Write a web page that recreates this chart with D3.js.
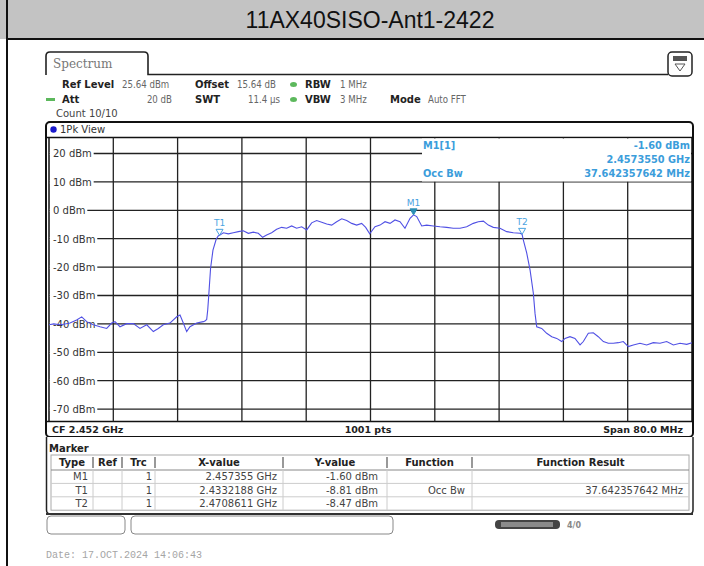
<!DOCTYPE html>
<html><head><meta charset="utf-8">
<script src="https://cdn.jsdelivr.net/npm/d3@7"></script>
<style>
body{margin:0;background:#fff}
svg{display:block}
text{font-family:"DejaVu Sans",Verdana,sans-serif}
</style>
</head><body>
<svg id="c" width="704" height="566"></svg>
<script>
// ---------- data ----------
const chartTitle = "11AX40SISO-Ant1-2422";
const startMHz = 2412, spanMHz = 80;
const refLevel = 25.64, rangeDb = 100;
const levelTicks = [20, 10, 0, -10, -20, -30, -40, -50, -60, -70];
const freqGridMHz = [8, 16, 24, 32, 40, 48, 56, 64, 72];

// trace: frequency offset from start (MHz) and level (dBm)
const traceOffsetMHz = [
  0.0, 0.6, 1.37, 2.0, 2.61, 3.44, 4.07, 4.69, 5.51, 6.35, 7.18, 7.80, 8.21, 8.83, 9.67, 10.49,
  11.32, 12.16, 12.98, 13.60, 14.22, 15.05, 15.89, 16.30, 16.71, 17.13, 17.54, 18.38, 19.20, 19.40,
  19.62, 19.75, 19.85, 20.10, 20.40, 20.80, 21.05, 21.22,
  21.69, 22.31, 22.93, 23.56, 24.18, 24.80, 25.42, 26.04, 26.58, 27.08, 27.70, 28.32, 28.95, 29.57,
  30.19, 30.81, 31.44, 32.06, 32.68, 33.30, 33.93, 34.55, 35.17, 35.79, 36.42, 37.04, 37.66, 38.28,
  38.90, 39.40, 39.90, 40.56, 41.18, 41.81, 42.43, 43.05, 43.67, 44.29, 44.92, 45.355, 45.75, 46.37,
  46.99, 47.82, 48.65, 49.48, 50.30, 51.14, 51.97, 52.79, 53.41, 54.04, 54.66, 55.28, 56.11, 56.95,
  57.77, 58.60, 58.86, 59.01, 59.44, 59.85, 60.26, 60.47, 60.68, 61.30, 61.92, 62.55, 63.17, 63.79,
  64.20, 64.82, 65.44, 66.07, 66.48, 67.10, 67.72, 68.34, 68.97, 69.59, 70.21, 70.83, 71.45, 72.08,
  72.70, 73.53, 74.36, 75.19, 76.02, 76.85, 77.68, 78.51, 79.34, 80.0
];
const traceDbm = [
  -40.3, -40.0, -40.3, -40.0, -39.7, -38.6, -37.5, -39.2, -40.3, -41.0, -41.6, -39.7, -39.2, -41.0, -39.9, -39.9,
  -41.6, -40.3, -42.7, -41.6, -40.3, -39.7, -37.5, -36.9, -39.7, -42.7, -41.0, -39.7, -39.2, -39.0,
  -38.4, -35.0, -31.0, -20.5, -14.0, -10.2, -9.0, -8.81,
  -7.9, -8.3, -7.9, -7.5, -7.2, -8.1, -7.7, -8.1, -9.5, -8.7, -7.9, -6.7, -6.0, -6.3,
  -5.5, -6.3, -5.8, -6.9, -4.4, -3.6, -4.2, -4.8, -5.2, -4.0, -3.0, -3.6, -4.6, -5.2,
  -4.6, -6.0, -8.3, -5.8, -5.2, -4.0, -4.6, -3.4, -4.0, -6.3, -2.8, -1.60, -2.2, -5.5,
  -5.2, -5.5, -5.8, -6.0, -6.3, -6.3, -5.8, -4.6, -4.0, -3.8, -5.2, -6.0, -6.3, -7.5,
  -7.9, -8.1, -8.47, -10.4, -15.1, -21.0, -29.2, -36.3, -41.0, -41.6, -43.3, -44.5, -45.1, -46.2,
  -45.1, -44.5, -45.1, -47.4, -46.2, -43.3, -43.1, -44.5, -46.2, -46.8, -46.8, -46.6, -46.2, -48.0,
  -47.4, -46.8, -47.4, -46.6, -46.8, -46.2, -47.4, -46.8, -47.2, -46.6
];

// markers
const markerType = ["M1", "T1", "T2"];
const markerTrc = ["1", "1", "1"];
const markerFreqGHz = [2.457355, 2.4332188, 2.4708611];
const markerXLabel = ["2.457355 GHz", "2.4332188 GHz", "2.4708611 GHz"];
const markerDbm = [-1.60, -8.81, -8.47];
const markerYLabel = ["-1.60 dBm", "-8.81 dBm", "-8.47 dBm"];
const markerFunction = ["", "Occ Bw", ""];
const markerResult = ["", "37.642357642 MHz", ""];
const tableHeaders = ["Type", "Ref", "Trc", "X-value", "Y-value", "Function", "Function Result"];

const infoM1 = ["M1[1]", "-1.60 dBm", "2.4573550 GHz"];
const infoOcc = ["Occ Bw", "37.642357642 MHz"];
const footerTexts = ["CF 2.452 GHz", "1001 pts", "Span 80.0 MHz"];
const dateText = "Date: 17.OCT.2024  14:06:43";

// ---------- drawing ----------
const svg = d3.select("#c");
const L = 49, R = 692, T = 137.5, B = 421.5;
const x = d3.scaleLinear().domain([0, spanMHz]).range([L, R]);
const y = d3.scaleLinear().domain([refLevel - rangeDb, refLevel]).range([B, T]);

// title band
svg.append("rect").attr("x", 0).attr("y", 0).attr("width", 704).attr("height", 39).attr("fill", "#c3c3c3");
svg.append("line").attr("x1", 7).attr("x2", 704).attr("y1", 39).attr("y2", 39).attr("stroke", "#111").attr("stroke-width", 2);
svg.append("line").attr("x1", 7).attr("x2", 7).attr("y1", 0).attr("y2", 566).attr("stroke", "#111").attr("stroke-width", 2);
svg.append("text").attr("x", 370).attr("y", 28).attr("text-anchor", "middle")
  .style("font-family", "'Liberation Sans',Arial,sans-serif").style("font-size", "23px").attr("fill", "#111").text(chartTitle);

// Spectrum tab
svg.append("path").attr("d", "M46,75 L46,56 Q46,52 50,52 L144,52 Q148,52 148,56 L148,74.5 L668,74.5")
  .attr("fill", "none").attr("stroke", "#222").attr("stroke-width", 1.6);
svg.append("text").attr("x", 53).attr("y", 68).style("font-family", "'DejaVu Serif',serif").style("font-size", "12px")
  .attr("fill", "#777").text("Spectrum");
// icon
svg.append("rect").attr("x", 668).attr("y", 52).attr("width", 24).attr("height", 24).attr("rx", 4)
  .attr("fill", "#fff").attr("stroke", "#222").attr("stroke-width", 1.5);
svg.append("rect").attr("x", 673).attr("y", 56).attr("width", 14).attr("height", 5).attr("fill", "#555");
svg.append("path").attr("d", "M675,64 L685,64 L680,71 Z").attr("fill", "none").attr("stroke", "#555").attr("stroke-width", 1);

// info rows
const bold = (tx, ty, s) => svg.append("text").attr("x", tx).attr("y", ty).style("font-size", "10px")
  .style("font-weight", "bold").attr("fill", "#222").text(s);
const val = (tx, ty, s, anchor) => svg.append("text").attr("x", tx).attr("y", ty).attr("text-anchor", anchor || "start")
  .style("font-family", "'DejaVu Sans Condensed','DejaVu Sans',sans-serif").style("font-stretch", "condensed")
  .style("font-size", "9.6px").attr("fill", "#666").text(s);
const dot = (cx, cy) => svg.append("ellipse").attr("cx", cx).attr("cy", cy).attr("rx", 3.5).attr("ry", 2.5).attr("fill", "#5cb85c");
bold(62, 88, "Ref Level"); val(122, 88, "25.64 dBm"); bold(195, 88, "Offset"); val(237, 88, "15.64 dB");
dot(293.5, 84.5); bold(305, 88, "RBW"); val(340, 88, "1 MHz");
svg.append("rect").attr("x", 46).attr("y", 98).attr("width", 9).attr("height", 3).attr("fill", "#5cb85c");
bold(62, 103, "Att"); val(172, 103, "20 dB", "end"); bold(195, 103, "SWT"); val(280, 103, "11.4 µs", "end");
dot(293.5, 99.5); bold(305, 103, "VBW"); val(340, 103, "3 MHz"); bold(390, 103, "Mode"); val(428, 103, "Auto FFT");
svg.append("text").attr("x", 56).attr("y", 117).style("font-size", "10px").attr("fill", "#444").text("Count 10/10");

// plot frame
svg.append("rect").attr("x", 46).attr("y", 122).attr("width", 647).attr("height", 315).attr("rx", 4)
  .attr("fill", "#fff").attr("stroke", "#111").attr("stroke-width", 2);
svg.append("circle").attr("cx", 53.5).attr("cy", 129.5).attr("r", 3.2).attr("fill", "#1a1acc");
svg.append("text").attr("x", 60).attr("y", 133).style("font-size", "10px").attr("fill", "#333").text("1Pk View");
svg.append("line").attr("x1", 46).attr("x2", 693).attr("y1", T).attr("y2", T).attr("stroke", "#111").attr("stroke-width", 1.5);
svg.append("line").attr("x1", 46).attr("x2", 693).attr("y1", B).attr("y2", B).attr("stroke", "#111").attr("stroke-width", 1.5);

// grid
const grid = svg.append("g").attr("stroke", "#222").attr("stroke-width", 1.3);
grid.selectAll("line.v").data(freqGridMHz).join("line").attr("class", "v")
  .attr("x1", d => x(d)).attr("x2", d => x(d)).attr("y1", T).attr("y2", B);
grid.selectAll("line.h").data(levelTicks).join("line").attr("class", "h")
  .attr("x1", L).attr("x2", R).attr("y1", d => y(d)).attr("y2", d => y(d));
svg.append("line").attr("x1", L).attr("x2", L).attr("y1", T).attr("y2", B).attr("stroke", "#111").attr("stroke-width", 1.5);
svg.append("line").attr("x1", R).attr("x2", R).attr("y1", T).attr("y2", B).attr("stroke", "#111").attr("stroke-width", 1.5);

// y labels with white background
const yl = svg.append("g");
levelTicks.forEach(d => {
  const t = yl.append("text").attr("x", 53).attr("y", y(d) + 3.8).style("font-size", "10px").attr("fill", "#333").text(d + " dBm");
  const bb = t.node().getBBox();
  yl.insert("rect", "text").attr("x", L + 0.8).attr("y", y(d) - 1.5).attr("width", bb.x + bb.width + 1 - L).attr("height", 3).attr("fill", "#fff");
});

// marker info box (top right)
svg.append("rect").attr("x", 422).attr("y", T + 1).attr("width", R - 423).attr("height", 43).attr("fill", "#fff");
const info = (tx, ty, s, anchor) => svg.append("text").attr("x", tx).attr("y", ty).attr("text-anchor", anchor)
  .style("font-size", "9.8px").style("font-weight", "bold").attr("fill", "#3b9ddb").text(s);
info(423, 148.5, infoM1[0], "start"); info(690, 148.5, infoM1[1], "end"); info(690, 162.5, infoM1[2], "end");
info(423, 176.5, infoOcc[0], "start"); info(690, 176.5, infoOcc[1], "end");

// trace
const pts = traceOffsetMHz.map((f, i) => [f, traceDbm[i]]);
svg.append("path").datum(pts).attr("fill", "none").attr("stroke", "#5050e4").attr("stroke-width", 1.1)
  .attr("d", d3.line().x(d => x(d[0])).y(d => y(d[1])));

// markers on trace
markerType.forEach((m, i) => {
  const mx = x((markerFreqGHz[i] * 1000) - startMHz), my = y(markerDbm[i]);
  const filled = m.startsWith("M");
  svg.append("path").attr("d", `M${mx - 3.5},${my - 6} L${mx + 3.5},${my - 6} L${mx},${my} Z`)
    .attr("fill", filled ? "#2a8fb5" : "none").attr("stroke", filled ? "#2a8fb5" : "#4aa3df").attr("stroke-width", 1);
  svg.append("text").attr("x", mx).attr("y", my - 9).attr("text-anchor", "middle").style("font-size", "9px")
    .attr("fill", "#4aa3df").text(m);
});

// footer of plot
svg.append("text").attr("x", 52).attr("y", 433).style("font-size", "9.5px").style("font-weight", "bold").attr("fill", "#222").text(footerTexts[0]);
svg.append("text").attr("x", 368).attr("y", 433).attr("text-anchor", "middle").style("font-size", "9.5px").style("font-weight", "bold").attr("fill", "#222").text(footerTexts[1]);
svg.append("text").attr("x", 683).attr("y", 433).attr("text-anchor", "end").style("font-size", "9.5px").style("font-weight", "bold").attr("fill", "#222").text(footerTexts[2]);

// marker table
svg.append("path").attr("d", "M46.5,437 L46.5,510 Q46.5,514 50.5,514 L689,514 Q693,514 693,510 L693,437")
  .attr("fill", "#fff").attr("stroke", "#222").attr("stroke-width", 1.5);
svg.append("line").attr("x1", 46).attr("x2", 693).attr("y1", 514).attr("y2", 514).attr("stroke", "#333").attr("stroke-width", 2);
svg.append("text").attr("x", 49).attr("y", 452).style("font-size", "10px").style("font-weight", "bold").attr("fill", "#222").text("Marker");
const colEdges = [51, 93, 122, 155, 283, 387, 472, 689];
const colAlignX = [88, null, 152, 277, 378, 465, 683];
const rowTop = 455, headH = 15, rowH = 13.4;
const tbl = svg.append("g");
tbl.append("rect").attr("x", colEdges[0]).attr("y", rowTop).attr("width", colEdges[7] - colEdges[0]).attr("height", headH + rowH * 3)
  .attr("fill", "#fff").attr("stroke", "#aaa").attr("stroke-width", 1);
for (let r = 0; r < 3; r++) {
  tbl.append("line").attr("x1", colEdges[0]).attr("x2", colEdges[7]).attr("y1", rowTop + headH + rowH * r).attr("y2", rowTop + headH + rowH * r)
    .attr("stroke", r === 0 ? "#888" : "#ccc").attr("stroke-width", 1);
}
colEdges.slice(1, 7).forEach(cx => {
  tbl.append("line").attr("x1", cx).attr("x2", cx).attr("y1", rowTop + 2).attr("y2", rowTop + headH - 2).attr("stroke", "#555").attr("stroke-width", 1.2);
  tbl.append("line").attr("x1", cx).attr("x2", cx).attr("y1", rowTop + headH).attr("y2", rowTop + headH + rowH * 3).attr("stroke", "#ccc").attr("stroke-width", 1);
});
tableHeaders.forEach((h, i) => {
  tbl.append("text").attr("x", (colEdges[i] + colEdges[i + 1]) / 2).attr("y", rowTop + 11).attr("text-anchor", "middle")
    .style("font-size", "10px").style("font-weight", "bold").attr("fill", "#222").text(h);
});
const cols = [markerType, null, markerTrc, markerXLabel, markerYLabel, markerFunction, markerResult];
cols.forEach((arr, c) => {
  if (!arr) return;
  arr.forEach((s, r) => {
    tbl.append("text").attr("x", colAlignX[c]).attr("y", rowTop + headH + rowH * r + 10.3).attr("text-anchor", "end")
      .style("font-size", "10px").attr("fill", "#444").text(s);
  });
});

// status boxes below
svg.append("rect").attr("x", 47).attr("y", 516).attr("width", 78).attr("height", 18).attr("rx", 4).attr("fill", "#fff").attr("stroke", "#888");
svg.append("rect").attr("x", 131).attr("y", 516).attr("width", 262).attr("height", 18).attr("rx", 4).attr("fill", "#fff").attr("stroke", "#888");
svg.append("rect").attr("x", 495).attr("y", 520).attr("width", 65).attr("height", 9).attr("rx", 4).attr("fill", "#444");
svg.append("rect").attr("x", 501).attr("y", 522).attr("width", 52).attr("height", 5).attr("fill", "#8a8a8a");
svg.append("text").attr("x", 567).attr("y", 528).style("font-size", "8px").style("font-weight", "bold").attr("fill", "#888").text("4/0");

// date
svg.append("text").attr("x", 46).attr("y", 558).style("font-family", "'Liberation Mono','DejaVu Sans Mono',monospace")
  .style("font-size", "10px").attr("fill", "#a5a5a5").text(dateText);
</script>
</body></html>
